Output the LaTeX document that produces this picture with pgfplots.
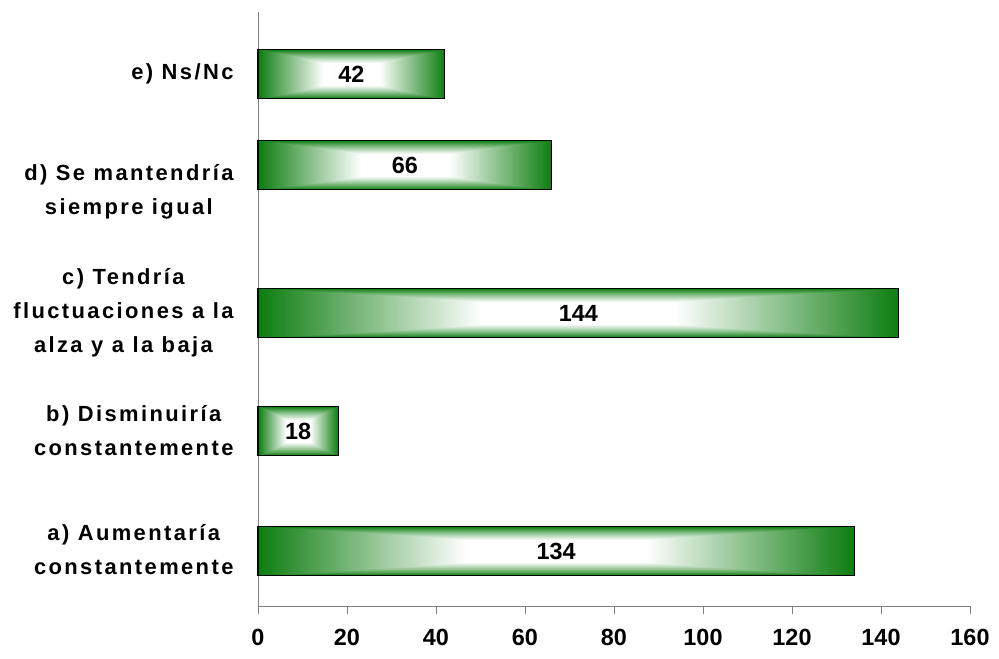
\documentclass[border=0pt]{standalone}
\usepackage{pgfplots}
\usepackage{pgfplotstable}
\pgfplotsset{compat=1.18}
\usepackage{fontspec}
\setmainfont{Liberation Sans}
\newfontfamily\catfont[LetterSpace=11]{Liberation Sans}
\pgfdeclarefunctionalshading{rectgrad}{\pgfpoint{-50bp}{-50bp}}{\pgfpoint{50bp}{50bp}}{}{
25 div abs dup sqrt mul exch 25 div abs
2 copy lt {exch} if pop
0.3 sub 0.7 div dup 0 lt {pop 0} if dup 1 gt {pop 1} if
dup 0.95 mul 1 exch sub
exch dup 0.51 mul 1 exch sub
exch 0.94 mul 1 exch sub
}
\pgfplotstableread{
v y
134 55
18 175
144 293
66 441
42 532
}\bardata
\pgfplotsset{mybar/.style={xbar, bar shift=0pt, bar width=49, draw=black, line width=1.2pt, shading=rectgrad}}
\begin{document}
\begin{tikzpicture}
\begin{axis}[
  name=ax,
  scale only axis,
  width=712bp, height=594bp,
  xmin=0, xmax=160, ymin=0, ymax=594,
  axis lines*=left,
  axis line style={draw=gray, line width=0.8pt},
  xtick={0,20,...,160},
  ytick={56,175,293,414,532},
  yticklabels={{a) Aumentaría\\constantemente},{b) Disminuiría\\constantemente},{c) Tendría\\fluctuaciones a la\\alza y a la baja},{d) Se mantendría\\siempre igual},{e) Ns/Nc}},
  yticklabel style={align=center, font=\catfont\bfseries\fontsize{22}{34}\selectfont, xshift=-13bp},
  xticklabel style={font=\bfseries\fontsize{23.5}{27}\selectfont, yshift=-12bp},
  /pgf/number format/assume math mode=true,
  x tick style={draw=gray, line width=0.8pt},
  y tick style={draw=none},
  major tick length=8bp,
  xtick pos=bottom,
  tick align=outside,
  clip=false,
]
\addplot[mybar] coordinates {(134,55)};
\addplot[mybar] coordinates {(18,175)};
\addplot[mybar] coordinates {(144,293)};
\addplot[mybar] coordinates {(66,441)};
\addplot[mybar] coordinates {(42,532)};
\addplot[draw=none, mark=none, nodes near coords, point meta=explicit,
  every node near coord/.style={anchor=center, font=\bfseries\fontsize{23.5}{27}\selectfont, text=black}]
  table[x expr=\thisrow{v}/2, y=y, meta=v] {\bardata};
\end{axis}
\pgfresetboundingbox
\path ([xshift=-258bp, yshift=-53bp]ax.south west) rectangle ([xshift=29bp, yshift=12bp]ax.north east);
\end{tikzpicture}
\end{document}
